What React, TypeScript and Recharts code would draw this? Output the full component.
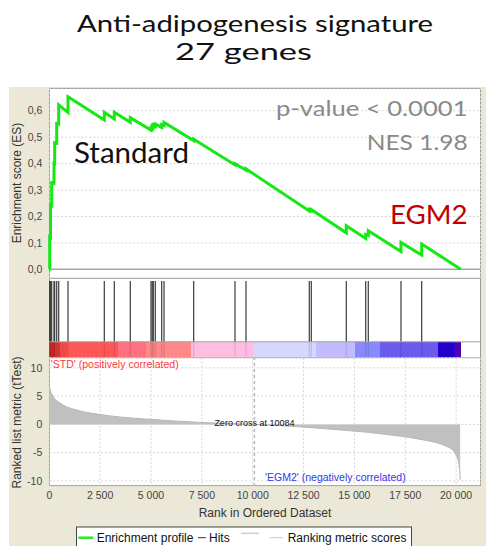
import React from 'react';
import {
  LineChart,
  Line,
  AreaChart,
  Area,
  ComposedChart,
  XAxis,
  YAxis,
  CartesianGrid,
  ReferenceLine,
  ReferenceArea,
} from 'recharts';

// ---------- data ----------
const RANK_MAX = 21210;
const xTicks = [0, 2500, 5000, 7500, 10000, 12500, 15000, 17500, 20000];
const esTicks = [0, 0.1, 0.2, 0.3, 0.4, 0.5, 0.6];
const metricTicks = [-10, -5, 0, 5, 10];

// running enrichment score (before/after each hit)
const esRanks = [
  0, 20, 20, 60, 60, 118, 118, 230, 230, 265, 265, 364, 364, 462, 462, 919, 919,
  2704, 2704, 3196, 3196, 3982, 3982, 5000, 5000, 5060, 5060, 5113, 5113, 5211, 5211,
  5526, 5526, 5639, 5639, 7099, 7099, 9130, 9130, 9671, 9671, 12783, 12783, 12881, 12881,
  14602, 14602, 15556, 15556, 15683, 15683, 17291, 17291, 18309, 18309, 20226,
];
const esValues = [
  0, 0, 0.123, 0.121, 0.243, 0.241, 0.328, 0.325, 0.4, 0.399, 0.479, 0.477, 0.552, 0.55, 0.622, 0.594, 0.653,
  0.565, 0.594, 0.569, 0.594, 0.556, 0.574, 0.527, 0.535, 0.532, 0.541, 0.538, 0.546, 0.541, 0.55,
  0.537, 0.548, 0.544, 0.556, 0.487, 0.492, 0.395, 0.4, 0.375, 0.38, 0.221, 0.226, 0.222, 0.226,
  0.138, 0.165, 0.117, 0.132, 0.128, 0.146, 0.067, 0.102, 0.054, 0.096, 0,
];

// gene-set hits (27 genes)
const hitRanks = [
  20, 60, 118, 230, 265, 364, 462, 919, 2704, 3196, 3982, 5000, 5060, 5113, 5211, 5526, 5639,
  7099, 9130, 9671, 12783, 12881, 14602, 15556, 15683, 17291, 18309,
];

// ranked list metric (tTest)
const metricRanks = [
  0, 15, 50, 118, 250, 443, 855, 1300, 1672, 2490, 3500, 4950, 6200, 7400, 8700, 10084,
  11300, 12600, 14290, 15500, 16750, 17700, 18390, 19000, 19540, 19850, 20030, 20130, 20180, 20200,
];
const metricValues = [
  7.0, 6.6, 6.0, 5.4, 4.6, 4.0, 3.1, 2.6, 2.25, 1.75, 1.3, 0.9, 0.6, 0.35, 0.17, 0,
  -0.2, -0.5, -0.97, -1.35, -1.86, -2.3, -2.74, -3.2, -3.9, -4.6, -5.7, -6.9, -8.5, -9.8,
];
const zeroCross = 10084;

// colour bar segments
const barStarts = [0, 280, 526, 870, 3378, 4754, 6966, 10064, 13112, 15030, 16258, 19110, 19946];
const barEnds = [280, 526, 870, 3378, 4754, 6966, 10064, 13112, 15030, 16258, 19110, 19946, 20241];
const barColors = [
  '#d42a2a', '#e33838', '#f04848', '#ff5757', '#ff7080', '#ff8888', '#ffbde2',
  '#d6d6fe', '#c2bcfe', '#8989fe', '#6a5aee', '#2200cc', '#5000b0',
];

// ---------- derived tables ----------
const esData = esRanks.map((r, i) => ({ rank: r, es: esValues[i] }));
const metricData = metricRanks.map((r, i) => ({ rank: r, metric: metricValues[i] }));
const hitData = hitRanks.map((r) => ({ rank: r, v: 0.5 }));

const fmtRank = (n: number) => String(n).replace(/\B(?=(\d{3})+(?!\d))/g, ' ');
const fmtEs = (n: number) => n.toFixed(1).replace('.', ',');

const SANS = '"Liberation Sans", Arial, sans-serif';
const CAL = 'Lato, "Open Sans", sans-serif';
const tickStyle = { fontSize: 10.5, fill: '#444', fontFamily: SANS };

export default function App() {
  return (
    <div
      style={{
        position: 'absolute',
        left: 0,
        top: 0,
        width: 486,
        height: 546,
        background: '#fff',
        overflow: 'hidden',
        fontFamily: SANS,
      }}
    >
      <div style={{ position: 'absolute', left: 9, top: 87, width: 477, height: 459, background: '#ebe8d8' }} />
      <div
        style={{
          position: 'absolute',
          left: 49.3,
          top: 88,
          width: 431.4,
          height: 398,
          background: '#fff',
          boxSizing: 'border-box',
          border: '1px solid #9a9a9a',
        }}
      />

      {/* Enrichment score panel */}
      <div style={{ position: 'absolute', left: 0, top: 0 }}>
        <LineChart width={486} height={290} data={esData} margin={{ top: 88, right: 5.3, bottom: 11.7, left: 9.3 }}>
          <CartesianGrid stroke="#d4d4d4" strokeDasharray="2 2" />
          <XAxis
            type="number"
            dataKey="rank"
            domain={[0, RANK_MAX]}
            ticks={xTicks}
            interval={0}
            height={0}
            tick={false}
            tickLine={false}
            axisLine={false}
          />
          <YAxis
            type="number"
            domain={[-0.034, 0.686]}
            ticks={esTicks}
            width={40}
            tickLine={false}
            axisLine={false}
            tickSize={5}
            tickMargin={2}
            tick={tickStyle}
            tickFormatter={fmtEs}
          />
          <ReferenceLine y={0} stroke="#a8a8a8" strokeWidth={1.5} />
          <Line
            dataKey="es"
            type="linear"
            stroke="#15e815"
            strokeWidth={3}
            dot={false}
            isAnimationActive={false}
          />
        </LineChart>
      </div>

      {/* Hits + colour bar */}
      <div style={{ position: 'absolute', left: 0, top: 270 }}>
        <ComposedChart width={486} height={95} data={hitData} margin={{ top: 8.3, right: 5.3, bottom: 7.3, left: 49.3 }}>
          <XAxis type="number" dataKey="rank" domain={[0, RANK_MAX]} hide />
          <YAxis type="number" domain={[0, 1]} hide />
          <Line dataKey="v" stroke="none" dot={false} isAnimationActive={false} />
          {barStarts.map((s, i) => (
            <ReferenceArea
              key={'b' + i}
              x1={s}
              x2={barEnds[i]}
              y1={0}
              y2={0.2}
              fill={barColors[i]}
              fillOpacity={1}
              stroke="none"
            />
          ))}
          {hitRanks.map((r, i) => (
            <ReferenceLine
              key={'hb' + i}
              segment={[{ x: r, y: 0 }, { x: r, y: 0.2 }]}
              stroke="#000"
              strokeOpacity={0.12}
              strokeWidth={1.2}
            />
          ))}
          {hitRanks.map((r, i) => (
            <ReferenceLine
              key={'h' + i}
              segment={[{ x: r, y: 0.2 }, { x: r, y: 0.966 }]}
              stroke="#3a3a3a"
              strokeWidth={1.2}
            />
          ))}
          <ReferenceLine y={1} stroke="#a0a0a0" />
          <ReferenceLine y={0.2} stroke="#a0a0a0" />
          <ReferenceLine y={0} stroke="#a0a0a0" />
        </ComposedChart>
      </div>

      {/* Ranked list metric */}
      <div style={{ position: 'absolute', left: 0, top: 350 }}>
        <AreaChart width={486} height={175} data={metricData} margin={{ top: 7.7, right: 5.3, bottom: 0, left: 9.3 }}>
          <CartesianGrid stroke="#d4d4d4" strokeDasharray="2 2" />
          <XAxis
            type="number"
            dataKey="rank"
            domain={[0, RANK_MAX]}
            ticks={xTicks}
            interval={0}
            height={39}
            tickLine={false}
            axisLine={false}
            tickSize={4}
            tickMargin={2}
            tick={tickStyle}
            tickFormatter={fmtRank}
          />
          <YAxis
            type="number"
            domain={[-10.9, 11.8]}
            ticks={metricTicks}
            width={40}
            tickLine={false}
            axisLine={false}
            tickSize={5}
            tickMargin={2}
            tick={tickStyle}
          />
          <Area
            dataKey="metric"
            type="monotone"
            fill="#c0c0c0"
            fillOpacity={1}
            stroke="#b8b8b8"
            strokeWidth={1}
            baseValue={0}
            isAnimationActive={false}
          />
          <ReferenceLine x={zeroCross} stroke="#b8b8b8" strokeDasharray="3 3" strokeWidth={1.5} />
        </AreaChart>
      </div>

      {/* text overlay */}
      <svg
        width={486}
        height={546}
        style={{ position: 'absolute', left: 0, top: 0, pointerEvents: 'none' }}
      >
        <text x={77} y={32} fontFamily={CAL} fontSize={24} fill="#111" textLength={356} lengthAdjust="spacingAndGlyphs">
          Anti-adipogenesis signature
        </text>
        <text x={175} y={60} fontFamily={CAL} fontSize={24} fill="#111" textLength={137} lengthAdjust="spacingAndGlyphs">
          27 genes
        </text>
        <text x={74} y={163.3} fontFamily={CAL} fontSize={28} fill="#111" textLength={115} lengthAdjust="spacingAndGlyphs">
          Standard
        </text>
        <text x={276} y={116} fontFamily={CAL} fontSize={21.5} fill="#8a8a8a" textLength={191.5} lengthAdjust="spacingAndGlyphs">
          p-value &lt; 0.0001
        </text>
        <text x={366.7} y={150} fontFamily={CAL} fontSize={21.5} fill="#8a8a8a" textLength={101} lengthAdjust="spacingAndGlyphs">
          NES 1.98
        </text>
        <text x={390} y={224} fontFamily={CAL} fontSize={27.5} fill="#c00000" textLength={77.7} lengthAdjust="spacingAndGlyphs">
          EGM2
        </text>

        <text
          x={17}
          y={183}
          transform="rotate(-90 17 183)"
          textAnchor="middle"
          dominantBaseline="central"
          fontFamily={SANS}
          fontSize={12}
          fill="#333"
        >
          Enrichment score (ES)
        </text>
        <text
          x={17}
          y={422.5}
          transform="rotate(-90 17 422.5)"
          textAnchor="middle"
          dominantBaseline="central"
          fontFamily={SANS}
          fontSize={12}
          fill="#333"
        >
          Ranked list metric (tTest)
        </text>
        <text x={265} y={516.5} textAnchor="middle" fontFamily={SANS} fontSize={12} fill="#333">
          Rank in Ordered Dataset
        </text>

        <text x={50.7} y={368} fontFamily={SANS} fontSize={10} fill="#ff3a3a" textLength={128} lengthAdjust="spacingAndGlyphs">
          'STD' (positively correlated)
        </text>
        <text x={265} y={480.5} fontFamily={SANS} fontSize={10} fill="#3535ee" textLength={140.7} lengthAdjust="spacingAndGlyphs">
          'EGM2' (negatively correlated)
        </text>
        <text x={254.4} y={426} textAnchor="middle" fontFamily={SANS} fontSize={9} fill="#111">
          Zero cross at 10084
        </text>

        {/* legend */}
        <rect x={76.5} y={527} width={335} height={30} fill="#fff" stroke="#444" strokeWidth={1} />
        <line x1={78.3} x2={93.3} y1={537.7} y2={537.7} stroke="#22ee22" strokeWidth={2.5} />
        <text x={96.7} y={541.7} fontFamily={SANS} fontSize={12} fill="#111">
          Enrichment profile
        </text>
        <line x1={198} x2={206} y1={537.7} y2={537.7} stroke="#333" strokeWidth={1} />
        <text x={209} y={541.7} fontFamily={SANS} fontSize={12} fill="#111">
          Hits
        </text>
        <line x1={241} x2={259} y1={533.3} y2={533.3} stroke="#d0d0d0" strokeWidth={1.5} />
        <line x1={270} x2={283.3} y1={537.7} y2={537.7} stroke="#c8c8c8" strokeWidth={1} />
        <text x={287.7} y={541.7} fontFamily={SANS} fontSize={12} fill="#111">
          Ranking metric scores
        </text>
      </svg>
    </div>
  );
}
